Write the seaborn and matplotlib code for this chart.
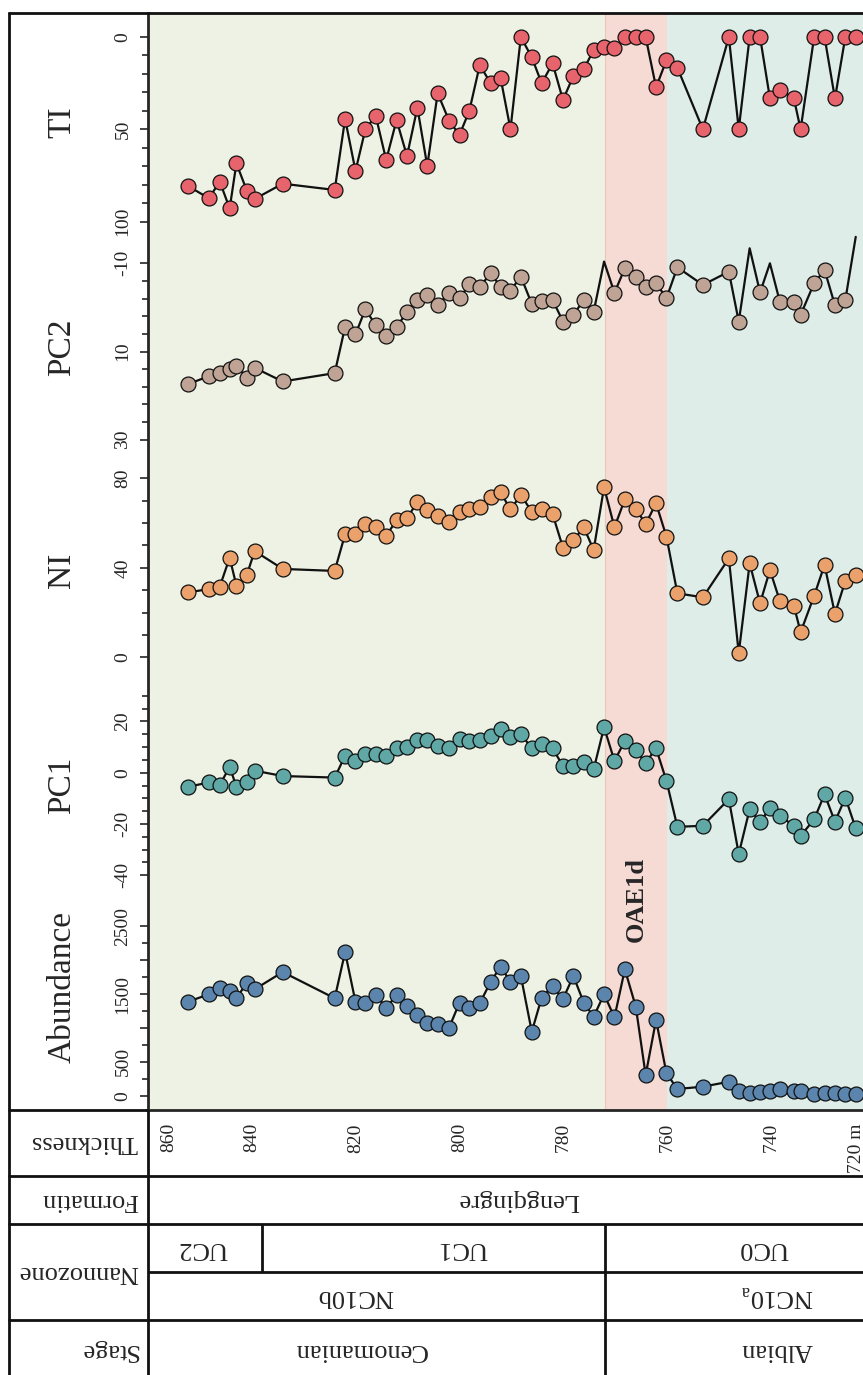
import numpy as np
import pandas as pd
import seaborn as sns
import matplotlib.pyplot as plt

# sample levels (m) and proxy values
thickness = [852.2, 848.2, 846.1, 844.2, 842.9, 840.9, 839.4, 834.0, 824.0, 822.0,
             820.0, 818.1, 816.1, 814.1, 812.1, 810.1, 808.1, 806.2, 804.2, 802.0,
             800.0, 798.1, 796.1, 794.0, 792.1, 790.2, 788.2, 786.1, 784.2, 782.1,
             780.1, 778.1, 776.1, 774.2, 772.2, 770.2, 768.2, 766.1, 764.2, 762.2,
             760.2, 758.1, 753.2, 748.2, 746.3, 744.2, 742.2, 740.3, 738.4, 735.7,
             734.4, 731.8, 729.8, 727.8, 725.8, 723.8]
ti = [80.8, 87.4, 78.4, 92.9, 68.5, 83.3, 87.8, 79.5, 82.9, 44.4,
      72.6, 50.0, 42.8, 66.7, 45.0, 64.5, 38.3, 69.9, 30.5, 45.4,
      53.1, 39.9, 15.2, 25.1, 22.2, 50.0, 0.0, 11.0, 25.1, 14.3,
      34.1, 21.1, 17.5, 7.0, 5.3, 6.1, 0.0, 0.0, 0.0, 27.3,
      12.5, 16.7, 50.0, 0.0, 50.0, 0.0, 0.0, 33.3, 28.6, 33.3,
      50.0, 0.0, 0.0, 33.3, 0.0, 0.0]
pc2 = [17.4, 15.6, 14.9, 14.0, 13.2, 15.9, 13.7, 16.8, 14.9, 4.4,
       6.1, 0.4, 4.1, 6.4, 4.5, 1.0, -1.7, -2.8, -0.5, -3.3,
       -2.1, -5.2, -4.7, -7.7, -4.7, -3.8, -7.0, -0.8, -1.5, -1.7,
       3.2, 1.7, -1.7, 1.0, -10.4, -3.3, -8.9, -7.0, -4.7, -5.5,
       -2.1, -9.1, -5.1, -8.1, 3.2, -13.4, -3.4, -10.0, -1.3, -1.3,
       1.7, -5.5, -8.5, -0.5, -1.7, -16.0]
ni = [29.0, 30.5, 31.6, 44.5, 32.0, 36.8, 47.5, 39.5, 38.6, 55.0,
      55.0, 59.4, 58.4, 54.2, 61.4, 62.1, 69.5, 65.8, 63.2, 60.3,
      64.8, 66.3, 67.3, 71.5, 73.7, 66.1, 72.5, 65.1, 66.3, 64.0,
      49.0, 52.4, 58.1, 48.0, 76.0, 58.1, 70.6, 66.3, 59.6, 68.8,
      53.9, 28.6, 26.8, 44.2, 1.8, 42.0, 24.1, 39.0, 25.2, 23.1,
      11.2, 27.5, 41.3, 19.4, 34.2, 36.8]
pc1 = [-5.5, -3.8, -4.8, 2.3, -5.5, -3.8, 0.8, -1.3, -1.9, 6.6,
       4.7, 7.3, 7.2, 6.5, 9.5, 10.1, 12.7, 12.7, 10.5, 9.5,
       13.0, 12.4, 12.7, 14.4, 16.9, 14.0, 15.1, 9.5, 11.1, 9.5,
       2.6, 2.6, 4.3, 1.3, 17.7, 4.6, 12.4, 8.8, 3.9, 9.5,
       -3.2, -21.1, -20.7, -10.3, -31.7, -14.2, -19.1, -13.9, -16.8, -20.7,
       -24.6, -18.2, -8.4, -19.1, -9.7, -21.7]
abundance = [1386, 1496, 1584, 1544, 1437, 1667, 1569, 1824, 1437, 2119,
             1382, 1372, 1485, 1298, 1481, 1327, 1190, 1065, 1055, 1003,
             1372, 1298, 1363, 1681, 1903, 1681, 1765, 944, 1445, 1618,
             1426, 1765, 1372, 1165, 1496, 1156, 1864, 1313, 305, 1117,
             330, 99, 133, 206, 69, 35, 50, 74, 94, 74,
             74, 25, 35, 35, 25, 25]
# PC2 levels that sit on the curve but have no symbol in the figure
pc2_no_marker = [772.2, 744.2, 740.3, 723.8]

# intervals (m)
oae_top, oae_base = 772.0, 760.0
uc2_base = 838.0

thick_ticks = [856, 840, 820, 800, 780, 760, 740, 723.6]
thick_labels = ['860', '840', '820', '800', '780', '760', '740', '720 m']

row_headers = ['Thickness', 'Formatin', 'Nannozone', 'Stage']
formation_name = 'Lengqingre'
uc_names = ['UC2', 'UC1', 'UC0']
nc_names = ['NC10b', 'NC10$_\\mathregular{a}$']
stage_names = ['Cenomanian', 'Albian']

sns.set_style('white')
plt.rcParams['font.family'] = ['Liberation Serif', 'DejaVu Serif']
plt.rcParams['mathtext.fontset'] = 'custom'
plt.rcParams['mathtext.rm'] = 'Liberation Serif'
plt.rcParams['axes.unicode_minus'] = False

df = pd.DataFrame({'thickness': thickness, 'TI': ti, 'PC2': pc2, 'NI': ni,
                   'PC1': pc1, 'Abundance': abundance})
df['pc2_marker'] = ~df['thickness'].isin(pc2_no_marker)

W, H = 863, 1375
fig = plt.figure(figsize=(W / 100, H / 100), dpi=100)


def add_px_axes(x0, y0, x1, y1):
    return fig.add_axes([x0 / W, 1 - y1 / H, (x1 - x0) / W, (y1 - y0) / H])


X0, X1, TOP, BOT = 147.5, 863, 13, 1110
PX_M = 5.2
t0 = 860
t1 = t0 - (X1 - X0) / PX_M


def t_to_px(t):
    return X0 + (t0 - t) * PX_M


# background bands + thickness scale
bg = add_px_axes(X0, TOP, X1, BOT)
bg.set_xlim(t0, t1)
bg.set_ylim(BOT, TOP)
bg.axvspan(t0, oae_top, color='#eef2e4', lw=0)
bg.axvspan(oae_top, oae_base, color='#f6dbd5', lw=0)
bg.axvspan(oae_base, t1, color='#deede8', lw=0)
bg.axvline(oae_top, color='#ecc4b9', lw=0.8)
bg.set_yticks([])
bg.set_xticks(thick_ticks, thick_labels, rotation=90, fontsize=14)
bg.set_xticks(np.arange(856, 722, -4), minor=True)
bg.tick_params(axis='x', which='major', bottom=True, length=0, pad=9.5)
bg.tick_params(axis='x', which='minor', bottom=True, direction='in', length=4, width=1.1)
bg.spines['top'].set_visible(False)
bg.spines['right'].set_visible(False)
bg.spines['left'].set_linewidth(2)
bg.spines['bottom'].set_linewidth(2)
bg.text((oae_top + oae_base) / 2, 900, 'OAE1d', rotation=90, ha='center', va='center',
        fontsize=19, fontweight='bold')

# one strip per proxy: column, colour, pixel rows, two (value, pixel) anchors, major ticks, minor step, labels, label row
panels = [
    ('TI', '#e8646c', (13, 230), ((0, 37), (100, 221.5)), [0, 50, 100], 10, None, 122),
    ('PC2', '#bfa496', (230, 459), ((-10, 263.3), (30, 439.7)), [-10, 10, 30], 4, None, 347),
    ('NI', '#eba16c', (459, 677), ((80, 478.3), (0, 657.3)), [0, 40, 80], 10, None, 570),
    ('PC1', '#60a8a6', (677, 900), ((20, 721.4), (-40, 875.3)), [-40, -20, 0, 20], 5, None, 785),
    ('Abundance', '#5b85ad', (900, BOT), ((0, 1095.7), (2500, 926.2)),
     [0, 500, 1000, 1500, 2000, 2500], 250, ['0', '500', '', '1500', '', '2500'], 987),
]

for name, colour, (ya, yb), ((v1, p1), (v2, p2)), major, step, labels, label_row in panels:
    ax = add_px_axes(X0, ya, X1, yb)

    def to_val(p):
        return v1 + (p - p1) * (v2 - v1) / (p2 - p1)

    ax.patch.set_visible(False)
    sns.lineplot(data=df, x='thickness', y=name, ax=ax, color='#111111', lw=1.6,
                 sort=False, estimator=None)
    pts = df[df['pc2_marker']] if name == 'PC2' else df
    sns.scatterplot(data=pts, x='thickness', y=name, ax=ax, color=colour,
                    edgecolor='#111111', linewidth=0.9, s=115, zorder=3)
    ax.set_xlim(t0, t1)
    ax.set_ylim(to_val(yb), to_val(ya))
    lo, hi = min(major), max(major)
    if name == 'PC1':
        hi = 30
    minor = [v for v in np.arange(lo, hi + step / 2, step) if v not in major]
    ax.set_yticks(major, labels if labels else [str(v) for v in major])
    ax.set_yticks(minor, minor=True)
    ax.tick_params(axis='y', which='major', left=True, direction='out', length=6, width=1.2,
                   labelsize=14, labelrotation=90, pad=5.5)
    ax.tick_params(axis='y', which='minor', left=True, direction='out', length=4, width=1.2)
    for lbl in ax.get_yticklabels():
        lbl.set_va('center')
    ax.set_xticks([])
    ax.set_xlabel('')
    for s in ax.spines.values():
        s.set_visible(False)
    ax.set_ylabel(name, fontsize=24, rotation=90, va='center', ha='center')
    ax.yaxis.set_label_coords((62 - X0) / (X1 - X0), (yb - label_row) / (yb - ya))

# frame and stratigraphic table
ov = fig.add_axes([0, 0, 1, 1])
ov.set_xlim(0, W)
ov.set_ylim(H, 0)
ov.axis('off')
ov.patch.set_visible(False)
kw = dict(color='#111111', lw=2)
ov.vlines(8.5, 12, H, **kw)
ov.hlines(12.5, 8, W, **kw)
ov.hlines(BOT, 8, X0, **kw)
ov.hlines([1176, 1224, 1320], 8, W, **kw)
ov.hlines(1272, X0, W, **kw)
ov.vlines(X0, BOT, H, **kw)
ov.vlines(t_to_px(uc2_base), 1224, 1272, **kw)
ov.vlines(t_to_px(oae_top), 1224, H, **kw)

for txt, y in zip(row_headers, [1142, 1200, 1272, 1350]):
    ov.text(138, y, txt, rotation=180, ha='right', va='center', fontsize=19)

tkw = dict(rotation=180, ha='center', va='center', fontsize=19)
ov.text(518, 1200, formation_name, **tkw)
for txt, x in zip(uc_names, [203, 463, 764]):
    ov.text(x, 1248, txt, **tkw)
for txt, x in zip(nc_names, [355, 777]):
    ov.text(x, 1296, txt, **tkw)
for txt, x in zip(stage_names, [360, 777]):
    ov.text(x, 1350, txt, **tkw)

fig.savefig('out.png', dpi=100)
